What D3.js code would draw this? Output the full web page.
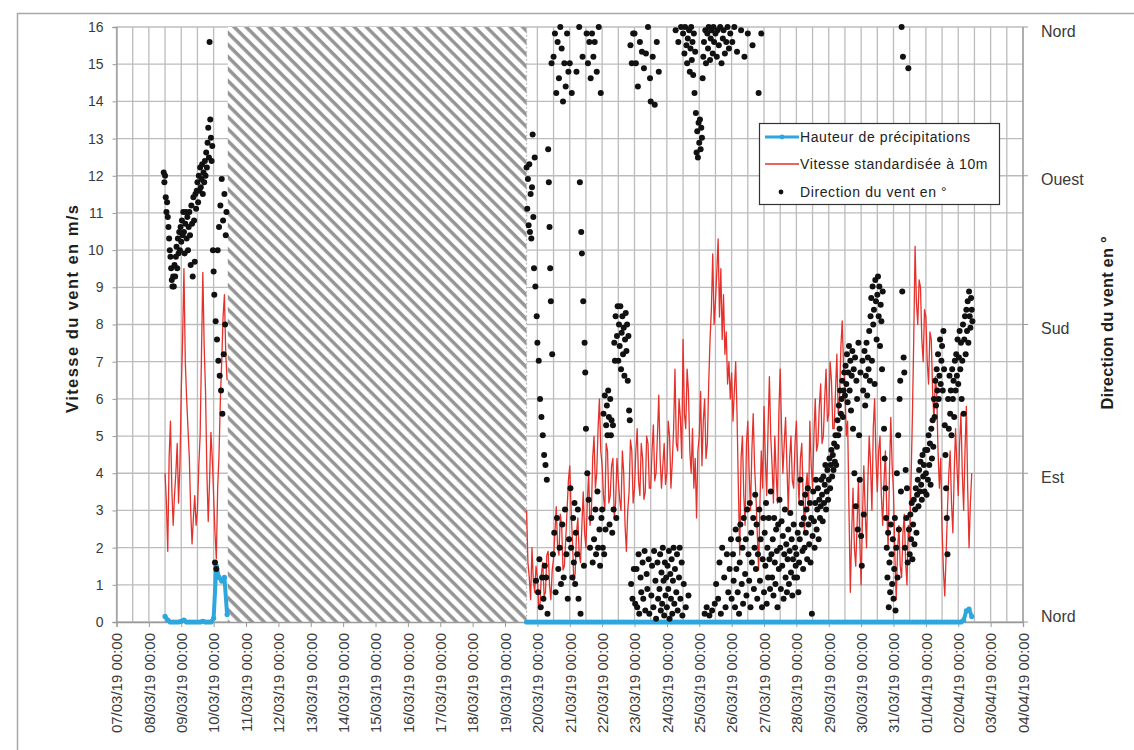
<!DOCTYPE html>
<html>
<head>
<meta charset="utf-8">
<script src="https://cdn.jsdelivr.net/npm/d3@7"></script>
<style>
body { margin: 0; background: #fff; }
svg text { font-family: "Liberation Sans", Arial, sans-serif; }
</style>
</head>
<body>
<svg id="chart" width="1134" height="750"></svg>
<script>
// ---- data ----
// wind speed standardised at 10 m (m/s), one value per hour
const speedStepMinutes = 60;
const speedStart1 = Date.UTC(2019, 2, 8, 12);
const speed1 = [4.0, 3.2, 1.9, 4.4, 5.4, 3.6, 2.6, 3.4, 4.0, 4.8, 3.2, 4.2,
    6.2, 7.6, 9.5, 7.0, 6.0, 5.2, 4.4, 3.0, 2.1, 2.8, 3.4, 2.6, 3.0, 4.2, 5.0, 7.2, 9.4, 7.4, 6.2, 4.0, 2.7, 3.8, 5.1, 4.4,
    3.4, 2.4, 1.7, 3.6, 4.5, 6.0, 7.0, 8.2, 8.8, 7.2, 6.5];

const speedStart2 = Date.UTC(2019, 2, 19, 16);
const speed2 = [3.0, 1.6, 1.2, 0.6, 2.0, 1.1, 0.8, 1.5,
    1.2, 0.4, 0.5, 1.3, 1.6, 0.7, 0.8, 1.8, 1.9, 1.0, 0.6, 1.4, 1.7, 2.4, 3.1, 2.0, 1.8, 2.9, 2.6, 1.4, 1.5, 2.2, 3.0, 3.8,
    4.2, 3.0, 2.2, 1.1, 1.3, 2.4, 2.8, 1.8, 1.6, 2.6, 3.5, 2.4, 2.0, 3.2, 4.0, 2.6, 2.9, 4.4, 5.0, 3.6, 4.0, 5.2, 6.0, 4.6,
    4.2, 3.4, 3.0, 4.8, 4.6, 3.2, 3.4, 4.2, 4.4, 2.8, 3.2, 4.4, 3.8, 3.3, 3.0, 4.6, 4.0, 2.6, 1.9, 3.0, 3.5, 4.9, 4.6, 3.2,
    3.6, 4.6, 5.2, 3.8, 3.4, 4.8, 4.4, 3.3, 3.5, 5.0, 4.8, 3.6, 3.6, 4.6, 5.3, 3.8, 4.0, 5.0, 6.1, 4.4, 3.6, 4.2, 4.8, 3.7,
    4.0, 5.4, 5.0, 3.6, 4.3, 5.2, 6.8, 4.8, 4.6, 6.0, 5.5, 4.4, 7.6, 5.6, 5.2, 6.8, 6.2, 4.6, 4.0, 5.2, 3.6, 4.4, 2.8, 4.6,
    5.0, 6.2, 4.2, 5.4, 6.0, 4.4, 4.8, 6.4, 7.6, 8.4, 9.9, 8.0, 8.6, 9.4, 10.3, 8.2, 9.5, 7.6, 8.8, 7.2, 7.8, 6.4, 7.0, 6.0,
    6.7, 5.4, 6.2, 7.0, 5.6, 3.6, 1.8, 4.4, 5.0, 3.4, 2.6, 4.8, 5.4, 4.0, 3.0, 4.6, 5.6, 4.2, 3.4, 2.4, 1.4, 3.2, 4.6, 3.6,
    5.8, 4.4, 3.4, 5.2, 6.6, 5.0, 4.2, 3.2, 5.0, 4.0, 3.2, 5.6, 6.8, 5.2, 4.0, 4.8, 5.5, 4.2, 3.0, 4.4, 5.0, 3.8, 3.6, 4.8,
    5.4, 4.0, 3.2, 4.4, 4.8, 3.4, 2.4, 3.6, 4.0, 3.0, 5.4, 4.2, 3.6, 5.0, 6.0, 4.6, 4.8, 5.8, 6.4, 4.8, 5.0, 6.0, 6.8, 5.4,
    5.6, 7.0, 6.5, 5.2, 5.2, 6.2, 7.2, 5.6, 6.0, 7.4, 8.1, 6.8, 6.4, 5.0, 5.4, 3.0, 0.8, 2.4, 3.6, 2.0, 1.5, 2.6, 3.8, 2.2,
    1.0, 2.8, 4.2, 3.0, 2.0, 3.8, 5.0, 4.2, 3.0, 5.2, 6.0, 4.4, 3.5, 4.6, 5.0, 3.4, 2.6, 3.8, 4.6, 3.0, 2.0, 4.0, 5.5, 4.2,
    3.5, 1.8, 0.6, 1.9, 2.6, 1.5, 1.2, 2.4, 2.9, 1.6, 1.0, 2.6, 2.2, 3.8, 5.5, 7.6, 10.1, 8.6, 8.0, 9.2, 9.0, 7.6, 7.0, 8.4,
    8.2, 7.0, 6.4, 7.8, 7.6, 6.2, 5.4, 6.6, 6.2, 4.6, 3.6, 4.4, 2.5, 1.4, 0.7, 1.8, 3.0, 4.0, 4.6, 3.2, 2.4, 4.0, 5.2, 4.2,
    3.4, 4.8, 5.6, 4.0, 3.0, 4.6, 5.8, 3.6, 2.0, 3.2, 4.0];

// rain height, one value every 2 hours
const rainStepMinutes = 120;
const rainStart1 = Date.UTC(2019, 2, 8, 12);
const rain1 = [0.15, 0.05, 0, 0, 0, 0, 0.02, 0.05, 0, 0, 0, 0,
    0, 0, 0.02, 0, 0, 0, 0.1, 1.5, 1.2, 1.1, 1.2, 0.2];
const rainStart2 = Date.UTC(2019, 2, 19, 16);
const rain2 = [0, 0, 0, 0,
    0, 0, 0, 0, 0, 0, 0, 0, 0, 0, 0, 0,
    0, 0, 0, 0, 0, 0, 0, 0, 0, 0, 0, 0,
    0, 0, 0, 0, 0, 0, 0, 0, 0, 0, 0, 0,
    0, 0, 0, 0, 0, 0, 0, 0, 0, 0, 0, 0,
    0, 0, 0, 0, 0, 0, 0, 0, 0, 0, 0, 0,
    0, 0, 0, 0, 0, 0, 0, 0, 0, 0, 0, 0,
    0, 0, 0, 0, 0, 0, 0, 0, 0, 0, 0, 0,
    0, 0, 0, 0, 0, 0, 0, 0, 0, 0, 0, 0,
    0, 0, 0, 0, 0, 0, 0, 0, 0, 0, 0, 0,
    0, 0, 0, 0, 0, 0, 0, 0, 0, 0, 0, 0,
    0, 0, 0, 0, 0, 0, 0, 0, 0, 0, 0, 0,
    0, 0, 0, 0, 0, 0, 0, 0, 0, 0, 0, 0,
    0, 0, 0, 0, 0, 0, 0, 0, 0, 0, 0, 0,
    0, 0, 0.05, 0.3, 0.35, 0.15];

// wind direction in degrees, one value every 30 minutes
const dirStepMinutes = 30;
const dirStart1 = Date.UTC(2019, 2, 8, 11);
const dir1 = [272, 266, 270, 257, 248, 254, 245,
    239, 232, 225, 221, 214, 207, 203, 209,
    203, 216, 209, 221, 227, 214, 232, 223, 236, 225, 239,
    230, 243, 234, 248, 236, 223, 241, 248, 232, 245, 225, 239,
    248, 234, 216, 252, 241, 209, 257, 243, 218, 259, 250, 261,
    266, 254, 270, 261, 275, 263, 268, 277, 259, 272, 266, 279,
    270, 284, 275, 290, 299, 281, 351, 304, 293, 279, 288, 225,
    212, 198, 36, 182, 32, 171, 225, 158, 239, 149, 252, 140,
    268, 126, 243, 162, 259, 180, 234, 248];

const dirStart2 = Date.UTC(2019, 2, 19, 16);
const dir2 = [275, 250, 268, 240, 277, 236, 259, 232, 263, 295, 245, 214, 281, 203, 25, 185,
    // 20/03
    169, 18, 158, 38, 135, 9, 124, 27, 113, 14, 101, 34,
    95, 27, 86, 5, 286, 266, 239, 214, 194, 338, 162, 41,
    342, 54, 356, 18, 320, 63, 351, 32, 329, 45, 360, 23,
    347, 59, 315, 27, 338, 68, 324, 41, 356, 14, 333, 50,
    // 21/03
    338, 81, 45, 320, 27, 63, 36, 72, 23, 54, 333, 41,
    68, 14, 360, 266, 5, 236, 223, 342, 194, 34, 169, 151,
    117, 356, 90, 338, 74, 351, 45, 329, 63, 356, 36, 342,
    50, 351, 68, 41, 333, 79, 45, 360, 56, 34, 320, 63,
    // 22/03
    68, 45, 126, 41, 137, 56, 119, 131, 113, 140, 124, 59,
    135, 113, 122, 54, 119, 68, 169, 158, 185, 63, 173, 191,
    158, 180, 167, 191, 153, 175, 185, 162, 178, 149, 171, 187,
    164, 180, 146, 173, 128, 122, 349, 23, 338, 14, 356, 32,
    // 23/03
    356, 11, 338, 32, 9, 324, 41, 5, 351, 27, 18, 345,
    36, 14, 335, 43, 7, 344, 29, 20, 360, 38, 5, 329,
    315, 16, 34, 342, 9, 43, 313, 25, 2, 351, 36, 14,
    333, 20, 41, 7, 30, 11, 45, 25, 4, 36, 16, 27,
    // 24/03
    9, 34, 20, 43, 2, 29, 14, 38, 5, 25, 45, 11,
    32, 358, 18, 41, 7, 351, 27, 45, 14, 360, 36, 4,
    356, 23, 344, 360, 9, 349, 338, 353, 16, 358, 333, 347,
    360, 340, 351, 331, 356, 320, 345, 308, 284, 297, 281, 302,
    // 25/03
    290, 304, 286, 299, 293, 329, 342, 351, 5, 358, 338, 9,
    356, 347, 360, 4, 340, 353, 358, 7, 344, 360, 351, 11,
    356, 23, 342, 358, 14, 349, 36, 360, 5, 338, 45, 353,
    358, 27, 344, 9, 351, 41, 360, 18, 347, 32, 356, 50,
    // 26/03
    14, 351, 41, 25, 360, 9, 56, 32, 345, 18, 50, 5,
    36, 59, 358, 23, 45, 11, 63, 342, 29, 50, 16, 68,
    356, 41, 25, 72, 9, 54, 36, 349, 63, 20, 45, 77,
    32, 59, 14, 41, 320, 68, 25, 50, 356, 9, 38, 63,
    // 27/03
    18, 54, 34, 72, 11, 45, 27, 63, 38, 20, 79, 41,
    27, 50, 16, 63, 36, 23, 56, 43, 9, 59, 32, 74,
    45, 20, 61, 34, 52, 14, 41, 68, 27, 47, 18, 38,
    56, 23, 43, 66, 30, 50, 16, 38, 59, 27, 45, 34,
    // 28/03
    41, 27, 54, 18, 36, 50, 86, 72, 59, 43, 32, 63,
    45, 77, 54, 68, 38, 81, 59, 47, 72, 36, 63, 5,
    52, 79, 61, 45, 72, 86, 56, 68, 81, 50, 74, 63,
    70, 86, 77, 61, 88, 72, 83, 95, 68, 79, 92, 74,
    // 29/03
    86, 99, 81, 95, 104, 88, 101, 92, 108, 97, 113, 95,
    106, 122, 113, 131, 117, 140, 126, 135, 146, 124, 140, 151,
    137, 155, 144, 162, 133, 151, 167, 140, 158, 128, 149, 164,
    117, 153, 90, 160, 70, 146, 135, 56, 169, 113, 86, 151,
    // 30/03
    52, 34, 158, 140, 65, 164, 131, 149, 169, 137, 160, 153,
    176, 146, 185, 196, 158, 203, 180, 189, 144, 207, 194, 171,
    198, 209, 185, 203, 167, 192, 182, 153, 200, 135, 117, 99,
    81, 63, 45, 27, 54, 9, 36, 18, 59, 41, 23, 50,
    // 31/03
    14, 32, 63, 7, 45, 90, 27, 113, 56, 135, 146, 79,
    360, 200, 342, 160, 151, 45, 92, 63, 81, 36, 335, 56,
    41, 65, 50, 72, 38, 59, 74, 47, 68, 81, 54, 77,
    86, 70, 92, 79, 97, 83, 74, 101, 88, 95, 79, 104,
    // 01/04
    90, 77, 104, 86, 113, 95, 108, 83, 117, 99, 122, 106,
    135, 124, 146, 131, 153, 140, 162, 135, 149, 171, 144, 158,
    167, 140, 176, 153, 119, 101, 81, 63, 41, 135, 117, 149,
    126, 140, 113, 153, 135, 146, 124, 158, 140, 162, 149, 171,
    // 02/04
    144, 160, 176, 153, 169, 135, 158, 180, 126, 171, 185, 162,
    189, 176, 194, 169, 200, 185, 178, 196, 189, 182];

// period without measurements (hatched)
const gapStart = Date.UTC(2019, 2, 10, 10, 30), gapEnd = Date.UTC(2019, 2, 19, 16);

const timeFrom = Date.UTC(2019, 2, 7), timeTo = Date.UTC(2019, 3, 4);
const speedTicks = [0, 1, 2, 3, 4, 5, 6, 7, 8, 9, 10, 11, 12, 13, 14, 15, 16];
const compassDegrees = [0, 90, 180, 270, 360];
const compassLabels = ['Nord', 'Est', 'Sud', 'Ouest', 'Nord'];
const legendLabels = ['Hauteur de précipitations', 'Vitesse standardisée à 10m', 'Direction du vent en °'];

const BLUE = '#2ea6de', RED = '#e5312b', GRID = '#bcbcbc', AXIS = '#9a9a9a';

function toSeries(start, stepMinutes, values) {
    return values.map((v, i) => ({ t: new Date(start + i * stepMinutes * 60000), v: v }));
}

function makeChart(selector) {
    let chart = {};
    chart.root = d3.select(selector);
    chart.x = d3.scaleUtc().domain([timeFrom, timeTo]).range([116.5, 1023]);
    chart.y = d3.scaleLinear().domain([0, 16]).range([622, 27]);
    chart.yDir = d3.scaleLinear().domain([0, 360]).range([622, 27]);
    const x = chart.x, y = chart.y, yDir = chart.yDir;
    const svg = chart.root;

    let defs = svg.append('defs');
    let hatch = defs.append('pattern')
        .attr('id', 'hatch')
        .attr('patternUnits', 'userSpaceOnUse')
        .attr('width', 8.5)
        .attr('height', 8.5)
        .attr('patternTransform', 'rotate(-45)');
    hatch.append('rect').attr('width', 8.5).attr('height', 8.5).attr('fill', '#fff');
    hatch.append('line')
        .attr('x1', 2).attr('y1', 0).attr('x2', 2).attr('y2', 8.5)
        .attr('stroke', '#939393').attr('stroke-width', 3.4);

    // chart frame
    svg.append('rect')
        .attr('x', 17.5).attr('y', 13.5)
        .attr('width', 1200).attr('height', 800)
        .attr('fill', 'none').attr('stroke', '#a8a8a8').attr('stroke-width', 1.5);

    // grid
    let grid = svg.append('g').attr('class', 'grid');
    grid.selectAll('line.h').data(speedTicks).join('line')
        .attr('class', 'h')
        .attr('x1', x.range()[0]).attr('x2', x.range()[1])
        .attr('y1', d => y(d)).attr('y2', d => y(d))
        .attr('stroke', GRID).attr('stroke-width', 1.3);
    const halfDays = d3.utcHour.every(12).range(new Date(timeFrom), new Date(timeTo + 1));
    grid.selectAll('line.v').data(halfDays).join('line')
        .attr('class', 'v')
        .attr('x1', d => x(d)).attr('x2', d => x(d))
        .attr('y1', y(16)).attr('y2', y(0))
        .attr('stroke', GRID).attr('stroke-width', 1.3);

    // hatched missing period
    svg.append('rect')
        .attr('x', x(gapStart)).attr('y', y(16))
        .attr('width', x(gapEnd) - x(gapStart)).attr('height', y(0) - y(16))
        .attr('fill', 'url(#hatch)');
    svg.append('line')
        .attr('x1', x(gapEnd)).attr('x2', x(gapEnd))
        .attr('y1', y(16)).attr('y2', y(0))
        .attr('stroke', '#b5b5b5').attr('stroke-width', 1.2)
        .attr('stroke-dasharray', '1.5,2.5');

    // left axis
    let left = svg.append('g')
        .attr('transform', `translate(${x.range()[0]},0)`)
        .call(d3.axisLeft(y).tickValues(speedTicks).tickSize(4).tickPadding(9));
    left.select('.domain').attr('stroke', AXIS).attr('stroke-width', 1.3);
    left.selectAll('.tick line').attr('stroke', AXIS);
    left.selectAll('.tick text').attr('font-size', 14).attr('fill', '#3a3a3a')
        .attr('font-family', '"Liberation Sans", Arial, sans-serif');

    // bottom axis
    let bottom = svg.append('g')
        .attr('transform', `translate(0,${y(0)})`)
        .call(d3.axisBottom(x)
            .tickValues(d3.utcDay.range(new Date(timeFrom), new Date(timeTo + 1)))
            .tickSize(5)
            .tickFormat(d3.utcFormat('%d/%m/%y %H:%M')));
    bottom.select('.domain').attr('stroke', AXIS).attr('stroke-width', 1.3);
    bottom.selectAll('.tick line').attr('stroke', AXIS);
    bottom.selectAll('.tick text')
        .attr('font-size', 15).attr('fill', '#3a3a3a')
        .attr('font-family', '"Liberation Sans", Arial, sans-serif')
        .attr('transform', 'rotate(-90)')
        .attr('x', -11).attr('y', 0).attr('dy', '0.35em')
        .style('text-anchor', 'end');

    // right (direction) axis
    let right = svg.append('g').attr('transform', `translate(${x.range()[1]},0)`);
    right.append('line')
        .attr('y1', yDir(0)).attr('y2', yDir(360))
        .attr('stroke', AXIS).attr('stroke-width', 1.3);
    right.selectAll('line.tick').data(compassDegrees).join('line')
        .attr('class', 'tick')
        .attr('x1', 0).attr('x2', 5)
        .attr('y1', d => yDir(d)).attr('y2', d => yDir(d))
        .attr('stroke', AXIS);
    right.selectAll('text').data(compassDegrees).join('text')
        .attr('x', 18)
        .attr('y', d => Math.min(yDir(d) + 4, 616))
        .attr('dy', '0.35em')
        .attr('font-size', 16).attr('fill', '#3a3a3a')
        .text((d, i) => compassLabels[i]);

    // axis titles
    svg.append('text')
        .attr('transform', 'translate(78,309) rotate(-90)')
        .attr('text-anchor', 'middle')
        .attr('font-size', 16.5).attr('font-weight', 'bold').attr('fill', '#1e1e1e')
        .attr('textLength', 208).attr('lengthAdjust', 'spacing')
        .text('Vitesse du vent en m/s');
    svg.append('text')
        .attr('transform', 'translate(1113,323) rotate(-90)')
        .attr('text-anchor', 'middle')
        .attr('font-size', 16.5).attr('font-weight', 'bold').attr('fill', '#1e1e1e')
        .attr('textLength', 173).attr('lengthAdjust', 'spacing')
        .text('Direction du vent en °');

    return chart;
}

function drawSeries(chart) {
    const x = chart.x, y = chart.y, yDir = chart.yDir, svg = chart.root;
    const rainSegments = [toSeries(rainStart1, rainStepMinutes, rain1), toSeries(rainStart2, rainStepMinutes, rain2)];
    const speedSegments = [toSeries(speedStart1, speedStepMinutes, speed1), toSeries(speedStart2, speedStepMinutes, speed2)];
    const dirPoints = toSeries(dirStart1, dirStepMinutes, dir1)
        .concat(toSeries(dirStart2, dirStepMinutes, dir2));

    const line = d3.line().x(d => x(d.t)).y(d => y(d.v));

    let rain = svg.append('g').attr('class', 'rain');
    rain.selectAll('path').data(rainSegments).join('path')
        .attr('d', line)
        .attr('fill', 'none').attr('stroke', BLUE).attr('stroke-width', 4)
        .attr('stroke-linejoin', 'round');
    rain.selectAll('circle').data(rainSegments.flat()).join('circle')
        .attr('cx', d => x(d.t)).attr('cy', d => y(d.v))
        .attr('r', 2.6).attr('fill', BLUE);

    svg.append('g').attr('class', 'speed')
        .selectAll('path').data(speedSegments).join('path')
        .attr('d', line)
        .attr('fill', 'none').attr('stroke', RED).attr('stroke-width', 1.3)
        .attr('stroke-linejoin', 'round');

    svg.append('g').attr('class', 'direction')
        .selectAll('circle').data(dirPoints).join('circle')
        .attr('cx', d => x(d.t)).attr('cy', d => yDir(d.v))
        .attr('r', 3.0).attr('fill', '#111');
}

function drawLegend(chart) {
    let legend = chart.root.append('g').attr('transform', 'translate(759,123)');
    legend.append('rect')
        .attr('x', 0.5).attr('y', 0.5).attr('width', 240).attr('height', 81)
        .attr('fill', '#fff').attr('stroke', '#333').attr('stroke-width', 1.2);
    const rowY = [14, 41, 69];
    legend.append('line').attr('x1', 6).attr('x2', 40).attr('y1', rowY[0]).attr('y2', rowY[0])
        .attr('stroke', BLUE).attr('stroke-width', 3);
    legend.append('circle').attr('cx', 23).attr('cy', rowY[0]).attr('r', 2.4).attr('fill', BLUE);
    legend.append('line').attr('x1', 6).attr('x2', 40).attr('y1', rowY[1]).attr('y2', rowY[1])
        .attr('stroke', RED).attr('stroke-width', 1.3);
    legend.append('circle').attr('cx', 22).attr('cy', rowY[2]).attr('r', 2.4).attr('fill', '#111');
    legend.selectAll('text.label').data(legendLabels).join('text')
        .attr('class', 'label')
        .attr('x', 41).attr('y', (d, i) => rowY[i]).attr('dy', '0.35em')
        .attr('font-size', 14).attr('fill', '#222')
        .style('letter-spacing', '0.6px')
        .text(d => d);
}

let chart = makeChart('#chart');
drawSeries(chart);
drawLegend(chart);
</script>
</body>
</html>
